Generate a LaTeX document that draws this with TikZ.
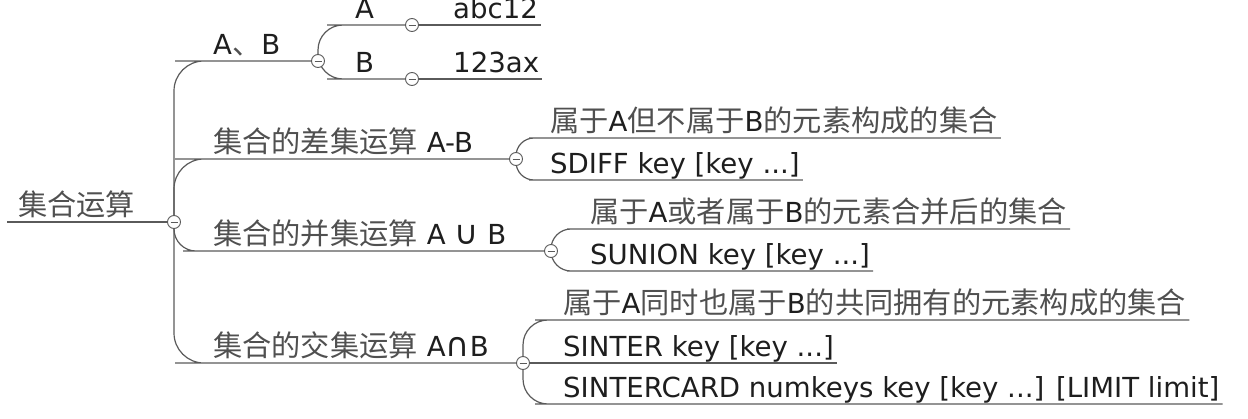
\documentclass[tikz,border=0pt]{standalone}
\usepackage{fontspec}
\setmainfont{DejaVu Sans}
\newfontfamily\cjk[Scale=1.06]{Noto Sans CJK SC}
\usepackage{xcolor}
\usepackage{tikz}
\usetikzlibrary{backgrounds}
\definecolor{linegray}{HTML}{5A5A5A}
\definecolor{zhgray}{HTML}{505050}
\definecolor{latingray}{HTML}{1E1E1E}
\newcommand{\zh}[1]{{\cjk\color{zhgray}#1}}
\newcommand{\setop}[1]{{\fontsize{33}{30}\selectfont #1}}
\tikzset{
    topicnode/.style={anchor=south west, inner xsep=3pt, inner ysep=1pt, text depth=5pt, font=\fontsize{27.6}{30}\selectfont, text=latingray},
    rootnode/.style={topicnode, inner xsep=11pt},
    branchnode/.style={topicnode, inner xsep=8pt},
    foldnode/.style={circle, draw=linegray, fill=white, line width=0.9pt, minimum size=13pt, inner sep=0pt,
        path picture={\draw[linegray, line width=1pt] ([xshift=-3.5pt]path picture bounding box.center) -- ([xshift=3.5pt]path picture bounding box.center);}},
    mapline/.style={draw=linegray, line width=1.2pt},
    curvedline/.style={mapline, rounded corners=#1},
    curvedline/.default=20pt
}

\begin{document}
\begin{tikzpicture}[x=1pt, y=-1pt]
    \useasboundingbox (0,0) rectangle (1248,418);

    % root and main branches
    \node[rootnode] (root) at (7,222) {\zh{集合运算}};
    \node[foldnode] (rootfold) at (174,222) {};
    \node[branchnode] (members) at (205,61) {A\zh{、}B};
    \node[foldnode] (membersfold) at (318,61) {};
    \node[branchnode] (diff) at (205,159) {\zh{集合的差集运算} A-B};
    \node[foldnode] (difffold) at (516,159) {};
    \node[branchnode] (union) at (205,251) {\zh{集合的并集运算} A \setop{∪} B};
    \node[foldnode] (unionfold) at (551,251) {};
    \node[branchnode] (inter) at (205,363) {\zh{集合的交集运算} A\setop{∩}B};
    \node[foldnode] (interfold) at (523,363) {};

    % A, B
    \node[topicnode] (setA) at (352,25) {A};
    \node[foldnode] (setAfold) at (412,25) {};
    \node[topicnode] (valA) at (450,25) {abc12};
    \node[topicnode] (setB) at (352,79) {B};
    \node[foldnode] (setBfold) at (412,79) {};
    \node[topicnode] (valB) at (450,79) {123ax};

    % difference
    \node[topicnode] (diffdesc) at (547,138) {\zh{属于}A\zh{但不属于}B\zh{的元素构成的集合}};
    \node[topicnode] (diffcmd) at (547,180) {SDIFF key [key ...]};

    % union
    \node[topicnode] (uniondesc) at (587,229) {\zh{属于}A\zh{或者属于}B\zh{的元素合并后的集合}};
    \node[topicnode] (unioncmd) at (587,271) {SUNION key [key ...]};

    % intersection
    \node[topicnode] (interdesc) at (560,320) {\zh{属于}A\zh{同时也属于}B\zh{的共同拥有的元素构成的集合}};
    \node[topicnode] (intercmd) at (560,363) {SINTER key [key ...]};
    \node[topicnode] (cardcmd) at (560,404) {SINTERCARD numkeys key [key ...] [LIMIT limit]};

    \begin{scope}[on background layer]
        \draw[mapline] (root.south west) -- (rootfold);
        \draw[curvedline=30pt] (rootfold.center) |- (members.south west) -- (membersfold);
        \draw[curvedline=30pt] (rootfold.center) |- (diff.south west) -- (difffold);
        \draw[curvedline=22pt] (rootfold.center) |- (union.south west) -- (unionfold);
        \draw[curvedline=30pt] (rootfold.center) |- (inter.south west) -- (interfold);

        \draw[curvedline=25pt] (membersfold.center) |- (setA.south west) -- (setAfold);
        \draw[mapline] (setAfold) -- (valA.south east);
        \draw[curvedline=25pt] (membersfold.center) |- (setB.south west) -- (setBfold);
        \draw[mapline] (setBfold) -- (valB.south east);

        \draw[curvedline=18pt] (difffold.center) |- (diffdesc.south west) -- (diffdesc.south east);
        \draw[curvedline=18pt] (difffold.center) |- (diffcmd.south west) -- (diffcmd.south east);

        \draw[curvedline=20pt] (unionfold.center) |- (uniondesc.south west) -- (uniondesc.south east);
        \draw[curvedline=20pt] (unionfold.center) |- (unioncmd.south west) -- (unioncmd.south east);

        \draw[curvedline=25pt] (interfold.center) |- (interdesc.south west) -- (interdesc.south east);
        \draw[mapline] (interfold) -- (intercmd.south west) -- (intercmd.south east);
        \draw[curvedline=25pt] (interfold.center) |- (cardcmd.south west) -- (cardcmd.south east);
    \end{scope}
\end{tikzpicture}
\end{document}
